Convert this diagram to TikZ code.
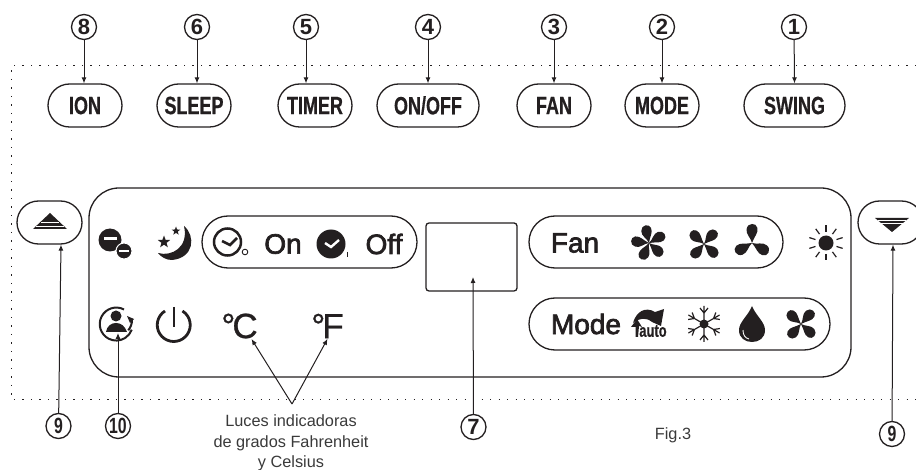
\documentclass[tikz,border=0pt]{standalone}
\usepackage{fontspec}
\setmainfont{Liberation Sans}
\newfontfamily\btnfont[FakeStretch=0.72,FakeBold=0.5]{Liberation Sans}
\newfontfamily\tagfont[FakeStretch=0.72]{Liberation Sans}
\newfontfamily\panelfont[FakeBold=2.5]{Liberation Sans}
\newfontfamily\markfont[FakeBold=0.8]{Liberation Sans}
\usetikzlibrary{arrows.meta,shapes.misc,shapes.geometric}
\definecolor{inkblack}{HTML}{231F20}
\definecolor{notegray}{HTML}{3A3A3A}

% fan icon: x, y, blades, start angle, scale
\newcommand{\fanicon}[5]{
  \foreach \k in {1,...,#3}{
    \fill[inkblack, shift={(#1,#2)}, rotate={#4+\k*360/#3}, scale=#5]
      (0,0) .. controls (-1,-5) and (-6,-8) .. (-5,-13)
      .. controls (-4,-19) and (4,-19) .. (5,-14)
      .. controls (6,-9) and (2,-6) .. (0,0) -- cycle;
  }
}

\begin{document}
\begin{tikzpicture}[
    x=1pt, y=-1pt,
    line width=1.3pt, color=inkblack,
    btnbox/.style={
        rounded rectangle, draw, inner sep=0pt,
        minimum height=43pt, font=\btnfont\bfseries\fontsize{25}{25}\selectfont,
    },
    pillbox/.style={rounded rectangle, draw, inner sep=0pt, minimum height=52pt},
    numcirc/.style={
        circle, draw, inner sep=0pt, minimum size=25pt,
        font=\bfseries\fontsize{22}{22}\selectfont,
    },
    paneltext/.style={inner sep=0pt, font=\panelfont\fontsize{28}{28}\selectfont},
    tempmark/.style={inner sep=0pt, font=\markfont\fontsize{35}{35}\selectfont},
    notetext/.style={inner sep=0pt, text=notegray, font=\fontsize{16.3}{20.7}\selectfont},
    arr/.style={-{Latex[length=6pt,width=5pt]}, line width=1pt},
    smallstar/.style={star, star points=5, star point ratio=2.4, fill, draw=none, inner sep=0pt},
]
\useasboundingbox (0,0) rectangle (916,470);

% Dotted outline of the unit
\draw[line width=1pt, dash pattern=on 1.2pt off 7.3pt]
    (916,66) -- (11,66) -- (11,399) -- (916,399);

% Buttons along the top
\node[btnbox, minimum width=74pt] (ion) at (85,105.5) {ION};
\node[btnbox, minimum width=74pt] (sleep) at (194,105.5) {SLEEP};
\node[btnbox, minimum width=74pt] (timer) at (315,105.5) {TIMER};
\node[btnbox, minimum width=102pt] (onoff) at (428,105.5) {ON/OFF};
\node[btnbox, minimum width=74pt] (fan) at (554,105.5) {FAN};
\node[btnbox, minimum width=74pt] (mode) at (662,105.5) {MODE};
\node[btnbox, minimum width=101pt] (swing) at (794.5,105.5) {SWING};

% Number tags on top
\node[numcirc] (tag8) at (84,27) {8};
\node[numcirc] (tag6) at (197,27) {6};
\node[numcirc] (tag5) at (306,27) {5};
\node[numcirc] (tag4) at (428,27) {4};
\node[numcirc] (tag3) at (554,27) {3};
\node[numcirc] (tag2) at (662,27) {2};
\node[numcirc] (tag1) at (794,27) {1};

% Side buttons
\node[rounded rectangle, draw, minimum width=65pt, minimum height=43pt, inner sep=0pt] (upbtn) at (49.5,222.5) {};
\node[rounded rectangle, draw, minimum width=65pt, minimum height=43pt, inner sep=0pt] (downbtn) at (890.5,222.5) {};
\fill (50,213) -- (67,229) -- (33,229) -- cycle;
\draw[white, line width=0.25pt] (41,222) -- (59,222) (36,226.5) -- (64,226.5);
\fill (875,218) -- (909,218) -- (892,232) -- cycle;
\draw[white, line width=0.25pt] (878,220.5) -- (906,220.5) (881,223.5) -- (903,223.5);

% Display panel
\node[draw, rectangle, rounded corners=30pt, minimum width=762pt, minimum height=189pt, inner sep=0pt] (panel) at (470,282.5) {};
\node[draw, rectangle, rounded corners=3pt, minimum width=91pt, minimum height=68pt, inner sep=0pt] (display) at (471.5,257) {};
\node[pillbox, minimum width=215pt] (clockpill) at (309.5,242) {};
\node[pillbox, minimum width=254pt] (fanpill) at (656,242) {};
\node[pillbox, minimum width=301pt] (modepill) at (679.5,324) {};

% Words in the panel
\node[paneltext] (ontxt) at (283,244) {On};
\node[paneltext] (offtxt) at (384,244) {Off};
\node[paneltext] (fantxt) at (575,243) {Fan};
\node[paneltext] (modetxt) at (586,324) {Mode};
\node[tempmark] (degc) at (239.5,326) {°\kern-3pt C};
\node[tempmark] (degf) at (327.5,326) {°\kern-3pt F};

% Ion icon
\fill (110,240) circle (11.5);
\fill[white] (104,237.5) rectangle (117,240.5);
\fill[draw=white, line width=1pt] (124,251) circle (8);
\fill[white] (119,250) rectangle (129,252.5);

% Sleep icon
\fill (184,226) .. controls (196,236) and (194,258) .. (172,260)
    .. controls (166,260) and (161,257) .. (158,253)
    .. controls (172,257) and (189,247) .. (184,226) -- cycle;
\node[smallstar, minimum size=13pt] (bigstar) at (164,242) {};
\node[smallstar, minimum size=9pt] (tinystar) at (176,231) {};

% Clock icons
\draw[line width=2.5pt] (227.5,242) circle (13.5);
\draw[line width=2.5pt] (222,241) -- (230,245) -- (237,238);
\draw[line width=0.9pt] (245,252) circle (2.8);
\fill (331,244) circle (14.5);
\draw[white, line width=2.4pt] (325,243) -- (331,247) -- (339,240);
\draw[line width=0.9pt] (347,252) -- (347,257);

% Person icon
\draw[line width=2pt] (124,309.5) arc (-62:-340:16.5);
\draw[line width=2pt] (132,320) arc (0:40:16);
\fill (127,316) -- (134,319) -- (130,323) -- cycle;
\fill (116,316) circle (5.5);
\fill (106,332) .. controls (107,326) and (111,323) .. (116,323)
    .. controls (121,323) and (125,326) .. (127,332) -- cycle;

% Power icon
\draw[line width=2.8pt] (165,311) arc (-122:-418:16.5);
\draw[line width=2.8pt] (174,307) -- (174,327);

% Fan and mode icons
\fanicon{649}{243}{5}{12}{1.02}
\fanicon{704}{244}{4}{-42}{1.02}
\fanicon{752}{243}{3}{0}{1.08}
\fanicon{801}{324}{4}{-42}{1.02}

% Sun icon
\fill (826,243) circle (7.5);
\foreach \a in {0,36,...,324}{
  \draw[line width=1.2pt] (826,243) ++(\a+90:11) -- ++(\a+90:6.5);
}

% Auto icon
\fill (633,323) .. controls (636,312) and (645,306) .. (655,312) -- (664,309)
    -- (661,326) -- (652,322) .. controls (646,317) and (639,318) .. (633,323) -- cycle;
\fill (631,327) -- (637,319) -- (642,327) -- (639,326) -- (638,337) -- (635.5,337) -- (635.5,327) -- cycle;
\node[inner sep=0pt, font=\btnfont\bfseries\fontsize{18}{18}\selectfont] (autotxt) at (653,331) {auto};

% Snow icon
\fill (704,324) circle (4.5);
\foreach \a in {0,60,...,300}{
  \draw[line width=1.2pt, shift={(704,324)}, rotate=\a]
      (0,0) -- (0,-18) (-4,-16) -- (0,-11) -- (4,-16);
}

% Drop icon
\fill (752,306) .. controls (748,316) and (739,322) .. (739,330)
    .. controls (739,338) and (745,342) .. (752,342)
    .. controls (759,342) and (765,338) .. (765,330)
    .. controls (765,322) and (756,316) .. (752,306) -- cycle;
\draw[white, line width=0.9pt] (743,330) .. controls (743,335) and (745,338) .. (749,339);

% Number tags at the bottom
\node[numcirc, font=\tagfont\bfseries\fontsize{22}{22}\selectfont] (tag9a) at (58.5,426) {9};
\node[numcirc, font=\tagfont\bfseries\fontsize{22}{22}\selectfont] (tag10) at (118,426) {10};
\node[numcirc] (tag7) at (473.5,427) {7};
\node[numcirc, font=\tagfont\bfseries\fontsize{22}{22}\selectfont] (tag9b) at (892,434) {9};

% Notes
\node[notetext, align=center] (lampnote) at (291,443) {Luces indicadoras\\de grados Fahrenheit\\y Celsius};
\node[notetext] (figlabel) at (673,435) {Fig.3};

% Arrows from the top tags
\draw[arr] (tag8) -- ([xshift=-1pt]ion.north);
\draw[arr] (tag6) -- ([xshift=3pt]sleep.north);
\draw[arr] (tag5) -- ([xshift=-9pt]timer.north);
\draw[arr] (tag4) -- (onoff.north);
\draw[arr] (tag3) -- (fan.north);
\draw[arr] (tag2) -- (mode.north);
\draw[arr] (tag1) -- (swing.north);

% Arrows from the bottom tags
\coordinate (persontip) at (118,333);
\coordinate (displaytip) at (473,277);
\coordinate (lampjoin) at (292,404);
\draw[arr] (tag9a) -- ([xshift=11.5pt]upbtn.south);
\draw[arr] (tag10) -- (persontip);
\draw[arr] (tag7) -- (displaytip);
\draw[arr] (tag9b) -- ([xshift=2.5pt]downbtn.south);
\draw[arr] (lampjoin) -- ([xshift=12pt]degc.south);
\draw[arr] (lampjoin) -- (degf.south);

\end{tikzpicture}
\end{document}
